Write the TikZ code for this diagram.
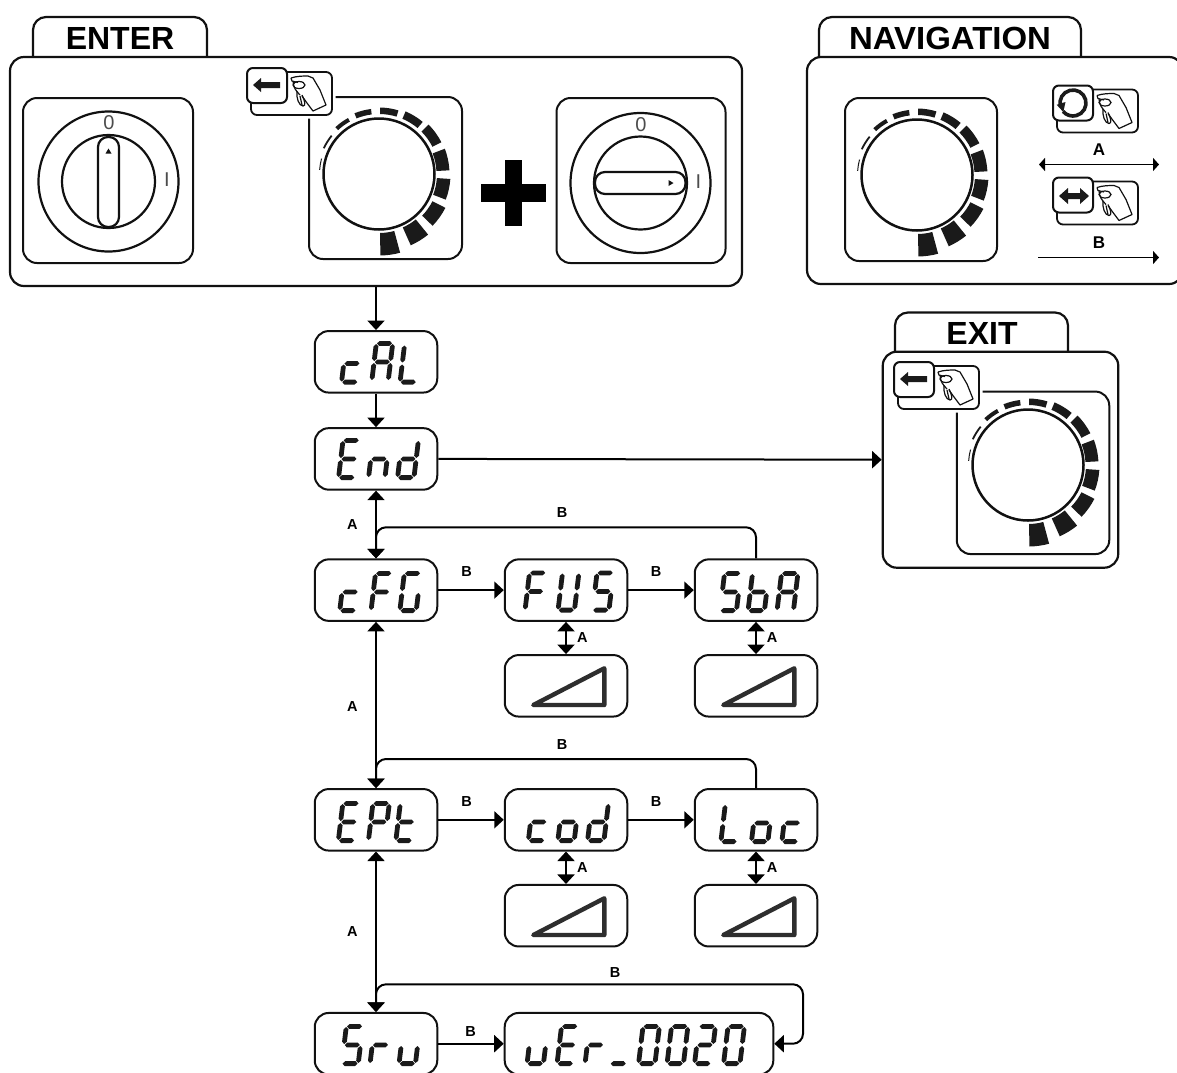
\documentclass[tikz,border=0pt]{standalone}
\usepackage{fontspec}
\setmainfont{Liberation Sans}
\usetikzlibrary{arrows.meta}
\definecolor{ink}{HTML}{111111}
\definecolor{lcdink}{HTML}{1A1A1A}
\tikzset{
  box/.style={draw=ink,line width=2pt,rounded corners=14pt,fill=white},
  panel/.style={box,line width=2.2pt,inner sep=0pt},
  tabtitle/.style={font=\bfseries\fontsize{32}{32}\selectfont,inner sep=0pt,text=black},
  tabline/.style={draw=ink,line width=2.2pt,rounded corners=13pt},
  lcd/.style={box,minimum width=122.5pt,minimum height=61.5pt,inner sep=0pt,text opacity=0,font=\fontsize{30}{30}\selectfont},
  slider/.style={box,minimum width=122.5pt,minimum height=61.5pt,inner sep=0pt},
  conn/.style={draw=black,line width=2pt},
  arr/.style={conn,-{Triangle[length=9.5pt,width=17pt]}},
  dbl/.style={conn,{Triangle[length=9.5pt,width=17pt]}-{Triangle[length=9.5pt,width=17pt]}},
  lab/.style={font=\bfseries\fontsize{14.5}{14.5}\selectfont,inner sep=0pt},
  navlab/.style={font=\bfseries\fontsize{17}{17}\selectfont,inner sep=0pt},
  swmark/.style={font=\fontsize{20}{20}\selectfont,inner sep=0pt,text=ink!75},
  swbox/.style={box,inner sep=0pt},
  ramp/.style={draw=ink!88,line width=4.4pt,line join=round},
  swline/.style={ink,line width=2.2pt}
}
% seven-segment glyphs
\newcommand\lcdh[3]{\fill[lcdink] (#1,#3) -- ({#1+2.3},{#3-2.4}) -- ({#2-2.3},{#3-2.4}) -- (#2,#3) -- ({#2-2.3},{#3+2.4}) -- ({#1+2.3},{#3+2.4}) -- cycle;}
\newcommand\lcdv[3]{\fill[lcdink] (#1,#2) -- ({#1+2.4},{#2+2.3}) -- ({#1+2.4},{#3-2.3}) -- (#1,#3) -- ({#1-2.4},{#3-2.3}) -- ({#1-2.4},{#2+2.3}) -- cycle;}
\newcommand\lcdsega{\lcdh{2.5}{17.5}{2.4}}
\newcommand\lcdsegb{\lcdv{18.2}{3}{20}}
\newcommand\lcdsegc{\lcdv{18.2}{22}{39}}
\newcommand\lcdsegd{\lcdh{2.5}{17.5}{39.6}}
\newcommand\lcdsege{\lcdv{1.8}{22}{39}}
\newcommand\lcdsegf{\lcdv{1.8}{3}{20}}
\newcommand\lcdsegg{\lcdh{2.5}{17.5}{21}}
\newcommand\lcdch[3]{\begin{scope}[shift={(#1,#2)},xslant=0.12]\foreach \s in {#3}{\csname lcdseg\s\endcsname}\end{scope}}
% dial
\newcommand\dialseg[4]{\fill[lcdink] (#1:#3pt) arc[start angle=#1,end angle=#2,radius=#3pt] -- (#2:#4pt) arc[start angle=#2,end angle=#1,radius=#4pt] -- cycle;}
\newcommand\dialgauge[2]{\begin{scope}[shift={(#1,#2)}]
  \draw[ink,line width=2.5pt] (0,0) circle[radius=55.5pt];
  \dialseg{165}{176}{59}{60}
  \dialseg{141}{155}{60}{61.8}
  \dialseg{119}{133}{60}{64}
  \dialseg{97}{112}{60}{65.5}
  \dialseg{73}{89}{60}{66.5}
  \dialseg{50}{67}{60}{68}
  \dialseg{27}{45}{60}{70}
  \dialseg{3}{21}{57.5}{70.5}
  \dialseg{-21}{-4}{58}{71.5}
  \dialseg{-44}{-27}{60}{74.5}
  \dialseg{-66}{-51}{58.5}{78}
  \dialseg{-89}{-75}{59}{81.5}
\end{scope}}
% icon with hand
\newcommand\handicon[3]{\begin{scope}[shift={(#1,#2)}]
  \draw[white,fill=white,line width=7pt,rounded corners=6pt] (4,4) rectangle (85,47);
  \draw[ink,fill=white,line width=1.8pt,rounded corners=6pt] (4,4) rectangle (85,47);
  \draw[ink,fill=white,line width=2pt,rounded corners=6pt] (0,0) rectangle (40,35);
  \draw[ink,line width=1.2pt,line join=round] (44,10) .. controls (50,8) and (56,8) .. (61,8) -- (66,10) -- (73,22) -- (79,37) -- (66,43) -- (60,35) -- (55,28);
  \draw[ink,line width=1.2pt] (44,10) -- (45,13) -- (51,14.5);
  \draw[ink,line width=1.2pt] (52,17) ellipse[x radius=6pt,y radius=3.5pt];
  \draw[ink,line width=1.2pt] (46,13) .. controls (46,19) and (49,23) .. (53,27);
  \draw[ink,line width=1.2pt] (50,23) .. controls (49,30) and (52,38) .. (56,38) .. controls (59,38) and (58,33) .. (55,27);
  \draw[ink,line width=1.2pt] (53,28) -- (55,37);
  #3
\end{scope}}
\newcommand\arrowglyph{\fill[lcdink] (6,17) -- (14,10) -- (14,14) -- (33,14) -- (33,20) -- (14,20) -- (14,24) -- cycle;}
\newcommand\rotglyph{\draw[lcdink,line width=3.6pt] (20,17.5) ++(195:13pt) arc[start angle=195,end angle=-140,radius=13pt];
  \fill[lcdink] (3.7,19.3) -- (12.5,16.5) -- (10.3,26.5) -- cycle;}
\newcommand\dblglyph{\fill[lcdink] (6,18.5) -- (15,10.5) -- (15,15.5) -- (27,15.5) -- (27,10.5) -- (36,18.5) -- (27,26.5) -- (27,21.5) -- (15,21.5) -- (15,26.5) -- cycle;}
\newcommand\rampglyph[2]{\draw[ramp] (#1,#2)++(28.3,50) -- ++(71,-36.7) -- ++(0,36.7) -- cycle;}
\begin{document}
\begin{tikzpicture}[x=1pt,y=-1pt]
\useasboundingbox (0,0) rectangle (1177,1072);
\fill[white] (0,0) rectangle (1177,1072);

% ENTER
\draw[tabline] (33,57.5) -- (33,17) -- (207,17) -- (207,57.5);
\node[tabtitle] (entertitle) at (120,38) {ENTER};
\node[panel,minimum width=732pt,minimum height=229pt] (enterpanel) at (376,171.5) {};
\node[swbox,minimum width=170pt,minimum height=165pt] (sw1) at (108,180.5) {};
\draw[swline] (108.5,181.5) circle[radius=70pt];
\draw[swline] (108.5,181.5) circle[radius=46.5pt];
\draw[swline,fill=white,rounded corners=10pt] (98,137) rectangle (119,227);
\fill[ink] (105.5,153.5) -- (111.5,153.5) -- (108.5,148.5) -- cycle;
\node[swmark] (sw1zero) at (109,123) {0};
\node[swmark] (sw1one) at (167,180) {I};

\node[swbox,minimum width=153pt,minimum height=162pt] (knob1) at (385.5,178) {};
\handicon{247}{68}{\arrowglyph}
\dialgauge{379}{174}

\fill[black] (505,160) rectangle (521.5,226);
\fill[black] (481,184) rectangle (546,202);

\node[swbox,minimum width=169pt,minimum height=165pt] (sw2) at (641,180.5) {};
\draw[swline] (640.5,183) circle[radius=70pt];
\draw[swline] (640.5,183) circle[radius=46.5pt];
\draw[swline,fill=white,rounded corners=10pt] (595,172) rectangle (685.5,194);
\fill[ink] (668.5,180) -- (668.5,186) -- (673.5,183) -- cycle;
\node[swmark] (sw2zero) at (641,125) {0};
\node[swmark] (sw2one) at (698.5,182) {I};

% NAVIGATION
\draw[tabline] (819,57.5) -- (819,17) -- (1081,17) -- (1081,57.5);
\node[tabtitle,xscale=1.03] (navtitle) at (950,38) {NAVIGATION};
\node[panel,minimum width=376pt,minimum height=227pt] (navpanel) at (995,170.5) {};
\node[swbox,minimum width=152pt,minimum height=163pt] (knob2) at (921,179.5) {};
\dialgauge{917}{175}
\handicon{1053}{85.5}{\rotglyph}
\handicon{1053}{177.5}{\dblglyph}
\node[navlab] (navA) at (1099,150) {A};
\node[navlab] (navB) at (1099,243) {B};
\coordinate (a1) at (1039,164.5);
\coordinate (a2) at (1159,164.5);
\coordinate (b1) at (1038,257.5);
\coordinate (b2) at (1159,257.5);
\draw[black,line width=1.8pt,{Triangle[length=6pt,width=13pt]}-{Triangle[length=6pt,width=13pt]}] (a1) -- (a2);
\draw[black,line width=1.8pt,-{Triangle[length=6pt,width=13pt]}] (b1) -- (b2);

% EXIT
\draw[tabline] (895,352) -- (895,312.5) -- (1068,312.5) -- (1068,352);
\node[tabtitle] (exittitle) at (982,333.5) {EXIT};
\node[panel,minimum width=235.5pt,minimum height=216pt] (exitpanel) at (1000.5,459.7) {};
\node[swbox,minimum width=152.5pt,minimum height=162.5pt] (knob3) at (1033,472.8) {};
\handicon{894}{362}{\arrowglyph}
\dialgauge{1028}{465}

% LCD nodes
\node[lcd] (cal) at (376,361.8) {cAL};
\node[lcd] (end) at (376,458.9) {End};
\node[lcd] (cfg) at (376,590.1) {cFG};
\node[lcd] (fus) at (566,590.1) {FUS};
\node[lcd] (sba) at (756,590.1) {SbA};
\node[slider] (s1) at (566,685.8) {};
\node[slider] (s2) at (756,685.8) {};
\node[lcd] (ept) at (376,819.8) {EPt};
\node[lcd] (cod) at (566,819.8) {cod};
\node[lcd] (loc) at (756,819.8) {Loc};
\node[slider] (s3) at (566,915.7) {};
\node[slider] (s4) at (756,915.7) {};
\node[lcd] (srv) at (376,1043.7) {Sru};
\node[lcd,minimum width=268.6pt] (ver) at (639,1043.7) {uEr\_0020};

% glyphs
\lcdch{344.5}{342.5}{d,e,g}\lcdch{374.8}{341}{a,b,c,e,f,g}\lcdch{403}{342.5}{d,e,f}
\lcdch{341.5}{438}{a,d,e,f,g}\lcdch{371.5}{438}{c,e,g}\lcdch{400.5}{438}{b,c,d,e,g}
\lcdch{342.7}{571}{d,e,g}\lcdch{374}{571}{a,e,f,g}\lcdch{402.8}{571}{a,c,d,e,f}
\lcdch{528}{570.5}{a,e,f,g}\lcdch{561}{570.5}{b,c,d,e,f}\lcdch{595.5}{570.5}{a,c,d,f,g}
\lcdch{723}{571}{a,c,d,f,g}\lcdch{751}{571}{c,d,e,f,g}\lcdch{780}{571}{a,b,c,e,f,g}
\lcdch{341.3}{801}{a,d,e,f,g}\lcdch{371.4}{801}{a,b,e,f,g}\lcdch{398.8}{801}{d,e,f,g}
\lcdch{531.3}{801}{d,e,g}\lcdch{560.8}{801}{c,d,e,g}\lcdch{590.5}{801}{b,c,d,e,g}
\lcdch{723.8}{802}{d,e,f}\lcdch{754.4}{802}{c,d,e,g}\lcdch{784.8}{802}{d,e,g}
\lcdch{344.8}{1024}{a,c,d,f,g}\lcdch{373}{1024}{e,g}\lcdch{402}{1024}{c,d,e}
\lcdch{530}{1024}{c,d,e}\lcdch{560}{1024}{a,d,e,f,g}\lcdch{588}{1024}{e,g}\lcdch{613}{1024}{d}
\lcdch{641.5}{1024}{a,b,c,d,e,f}\lcdch{670}{1024}{a,b,c,d,e,f}\lcdch{697.5}{1024}{a,b,d,e,g}\lcdch{726.5}{1024}{a,b,c,d,e,f}

% ramps
\rampglyph{505}{655}
\rampglyph{695}{655}
\rampglyph{505}{885}
\rampglyph{695}{885}

% connectors
\draw[arr] (enterpanel.south) -- (cal.north);
\draw[arr] (cal.south) -- (end.north);
\draw[arr] (end.east) -- (exitpanel.west);
\draw[dbl] (end.south) -- (cfg.north);
\draw[dbl] (cfg.south) -- (ept.north);
\draw[dbl] (ept.south) -- (srv.north);
\draw[arr] (cfg.east) -- (fus.west);
\draw[arr] (fus.east) -- (sba.west);
\draw[arr] (ept.east) -- (cod.west);
\draw[arr] (cod.east) -- (loc.west);
\draw[arr] (srv.east) -- (ver.west);
\draw[dbl] (fus.south) -- (s1.north);
\draw[dbl] (sba.south) -- (s2.north);
\draw[dbl] (cod.south) -- (s3.north);
\draw[dbl] (loc.south) -- (s4.north);
\coordinate (loop1) at (376,527.3);
\coordinate (loop2) at (376,759);
\coordinate (loop3) at (376,984.3);
\coordinate (loop3r) at (803,984.3);
\coordinate (loop3b) at (803,1043.7);
\draw[arr,rounded corners=10pt] (sba.north) |- (loop1) -- (cfg.north);
\draw[arr,rounded corners=10pt] (loc.north) |- (loop2) -- (ept.north);
\draw[dbl,rounded corners=10pt] (ver.east) -- (loop3b) -- (loop3r) -- (loop3) -- (srv.north);

% labels
\node[lab] (l1) at (352.4,524.3) {A};
\node[lab] (l2) at (562,512.3) {B};
\node[lab] (l3) at (466.7,571) {B};
\node[lab] (l4) at (656,571) {B};
\node[lab] (l5) at (582.3,637.7) {A};
\node[lab] (l6) at (772,637.7) {A};
\node[lab] (l7) at (352.4,706) {A};
\node[lab] (l8) at (562,744.3) {B};
\node[lab] (l9) at (466.7,801) {B};
\node[lab] (l10) at (656,801) {B};
\node[lab] (l11) at (582.3,867.7) {A};
\node[lab] (l12) at (772,867.7) {A};
\node[lab] (l13) at (352.4,931.7) {A};
\node[lab] (l14) at (615,972.3) {B};
\node[lab] (l15) at (470.7,1031.7) {B};
\end{tikzpicture}
\end{document}
